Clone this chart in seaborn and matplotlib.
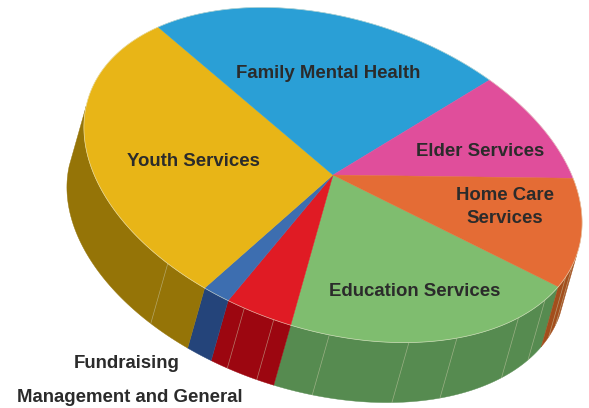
import numpy as np
import pandas as pd
import matplotlib
matplotlib.use('Agg')
import matplotlib.pyplot as plt
import seaborn as sns

categories = ['Education Services', 'Management and General', 'Fundraising', 'Youth Services',
              'Family Mental Health', 'Elder Services', 'Home Care\nServices']
shares = [20.7, 4.2, 1.7, 29.0, 23.2, 9.9, 11.3]

top_colors = ['#7FBD6F', '#E01B24', '#3D6EB0', '#E8B517', '#2A9FD6', '#E04E9B', '#E46C35']
side_colors = ['#568B50', '#9C0610', '#24447A', '#957407', '#1C6E95', '#9C3668', '#A34E1C']

label_pos = [(415, 292), (130, 398), (127, 363), (193, 161), (328, 74), (480, 152), (505, 207)]

# pie geometry in pixels
center = np.array([333.0, 175.0])
major, minor = 256.5, 156.0
tilt = np.radians(17.5)
depth = np.array([-17.0, 60.0])
start_angle = 14.4
seam_angles = [5, 10, 20.8, 31, 49.3, 61.4, 80, 92.9, 100, 120.7]


def rim(phi):
    phi = np.radians(phi)
    u = major * np.cos(phi)
    v = minor * np.sin(phi)
    x = center[0] + u * np.cos(tilt) - v * np.sin(tilt)
    y = center[1] + u * np.sin(tilt) + v * np.cos(tilt)
    return np.column_stack([x, y])


sns.set_theme(style='white')
plt.rcParams['font.family'] = ['Liberation Sans', 'DejaVu Sans']

df = pd.DataFrame({'category': categories, 'share': shares})
df['end'] = start_angle + df['share'].cumsum() * 3.6
df['start'] = df['end'] - df['share'] * 3.6
top_palette = sns.color_palette(top_colors)
side_palette = sns.color_palette(side_colors)

fig = plt.figure(figsize=(5.89, 4.08), dpi=100)
ax = fig.add_axes([0, 0, 1, 1])
ax.set_xlim(0, 589)
ax.set_ylim(408, 0)
ax.axis('off')

# side wall, only the part facing the viewer (last slice wraps past 360)
wall_from, wall_to = 1.0, 177.0
for i, row in df.iterrows():
    for shift in [0, -360]:
        a = max(row['start'] + shift, wall_from)
        b = min(row['end'] + shift, wall_to)
        if b <= a:
            continue
        arc = rim(np.linspace(a, b, 60))
        poly = np.vstack([arc, (arc + depth)[::-1]])
        ax.fill(poly[:, 0], poly[:, 1], color=side_palette[i], lw=0.3, zorder=2)

for s in seam_angles:
    p = rim(np.array([s]))[0]
    ax.plot([p[0], p[0] + depth[0]], [p[1], p[1] + depth[1]], color='#c9c9a8', lw=0.5, alpha=0.6, zorder=3)

# top face
for i, row in df.iterrows():
    arc = rim(np.linspace(row['start'], row['end'], 120))
    poly = np.vstack([center, arc])
    ax.fill(poly[:, 0], poly[:, 1], color=top_palette[i], lw=0.3, zorder=4)
    ax.plot(arc[:, 0], arc[:, 1], color='#e8e8d0', lw=0.5, alpha=0.7, zorder=5)

for name, (x, y) in zip(categories, label_pos):
    ax.text(x, y, name, ha='center', va='center', fontsize=13.4, fontweight='bold',
            color='#2b2b2b', linespacing=1.45, zorder=6)

plt.savefig('out.png', dpi=100)
